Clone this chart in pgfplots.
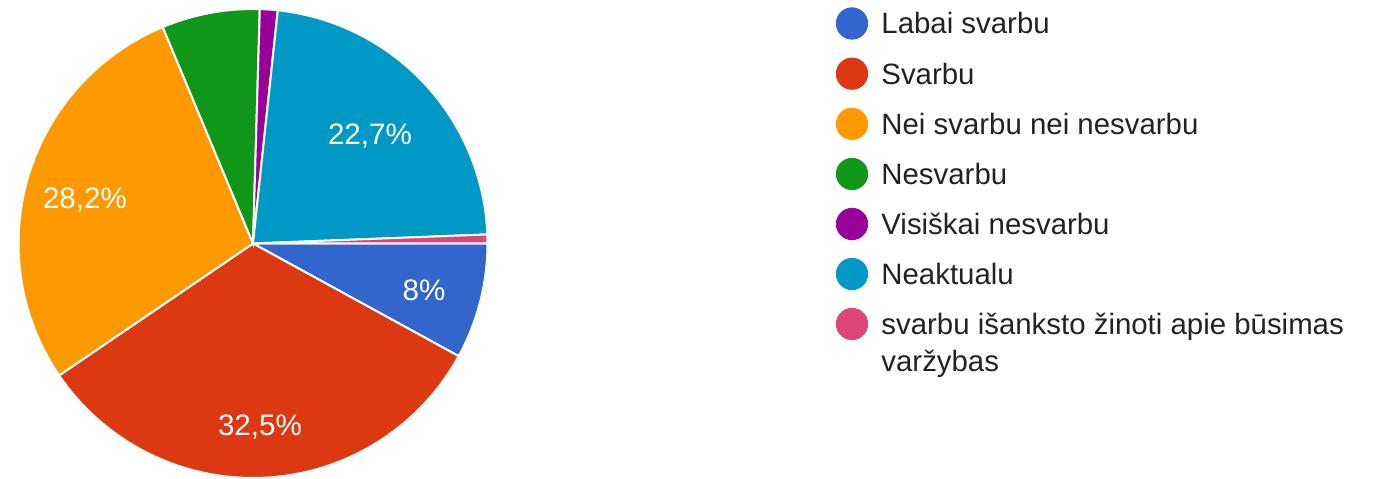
\documentclass[border=0pt]{standalone}
\usepackage{pgfplots}
\pgfplotsset{compat=1.18}
\usepackage{fontspec}
\setmainfont{Liberation Sans}
\definecolor{c1}{HTML}{3366CC}
\definecolor{c2}{HTML}{DC3912}
\definecolor{c3}{HTML}{FF9900}
\definecolor{c4}{HTML}{109618}
\definecolor{c5}{HTML}{990099}
\definecolor{c6}{HTML}{0099C6}
\definecolor{c7}{HTML}{DD4477}
\definecolor{legtext}{HTML}{222222}
\begin{document}
\begin{tikzpicture}
\begin{axis}[width=687pt,height=239pt,scale only axis,
  xmin=0,xmax=1374,ymin=0,ymax=478,hide axis,clip=false]
\path (rel axis cs:0,0) rectangle (rel axis cs:1,1);
% slices: counts 13,53,46,11,2,37,1 of 163, clockwise from 3 o'clock
\addplot[fill=c1,draw=white,line width=1pt,domain=-28.71:0,samples=40,variable=\t]
  ({253+234.5*cos(\t)},{234.5+234.5*sin(\t)}) -- (253,234.5) -- cycle;
\addplot[fill=c2,draw=white,line width=1pt,domain=-145.77:-28.71,samples=100,variable=\t]
  ({253+234.5*cos(\t)},{234.5+234.5*sin(\t)}) -- (253,234.5) -- cycle;
\addplot[fill=c3,draw=white,line width=1pt,domain=-247.36:-145.77,samples=100,variable=\t]
  ({253+234.5*cos(\t)},{234.5+234.5*sin(\t)}) -- (253,234.5) -- cycle;
\addplot[fill=c4,draw=white,line width=1pt,domain=-271.66:-247.36,samples=30,variable=\t]
  ({253+234.5*cos(\t)},{234.5+234.5*sin(\t)}) -- (253,234.5) -- cycle;
\addplot[fill=c5,draw=white,line width=1pt,domain=-276.07:-271.66,samples=8,variable=\t]
  ({253+234.5*cos(\t)},{234.5+234.5*sin(\t)}) -- (253,234.5) -- cycle;
\addplot[fill=c6,draw=white,line width=1pt,domain=-357.79:-276.07,samples=90,variable=\t]
  ({253+234.5*cos(\t)},{234.5+234.5*sin(\t)}) -- (253,234.5) -- cycle;
\addplot[fill=c7,draw=white,line width=1pt,domain=-360:-357.79,samples=5,variable=\t]
  ({253+234.5*cos(\t)},{234.5+234.5*sin(\t)}) -- (253,234.5) -- cycle;
% slice labels
\node[text=white,font=\fontsize{14.8}{18}\selectfont] at (424,188) {8\%};
\node[text=white,font=\fontsize{14.8}{18}\selectfont] at (260,51) {32,5\%};
\node[text=white,font=\fontsize{14.8}{18}\selectfont] at (85,278) {28,2\%};
\node[text=white,font=\fontsize{14.8}{18}\selectfont] at (370,342) {22,7\%};
% legend markers
\addplot[only marks,mark=*,mark size=7.85pt,color=c1] coordinates {(852,454.5)};
\addplot[only marks,mark=*,mark size=7.85pt,color=c2] coordinates {(852,404.3)};
\addplot[only marks,mark=*,mark size=7.85pt,color=c3] coordinates {(852,354.1)};
\addplot[only marks,mark=*,mark size=7.85pt,color=c4] coordinates {(852,304)};
\addplot[only marks,mark=*,mark size=7.85pt,color=c5] coordinates {(852,254)};
\addplot[only marks,mark=*,mark size=7.85pt,color=c6] coordinates {(852,204)};
\addplot[only marks,mark=*,mark size=7.85pt,color=c7] coordinates {(852,154)};
% legend text
\begin{scope}[every node/.style={anchor=base west,inner sep=0pt,text=legtext,font=\fontsize{14.7}{18}\selectfont}]
\node at (881,444) {Labai svarbu};
\node at (881,393.8) {Svarbu};
\node at (881,343.6) {Nei svarbu nei nesvarbu};
\node at (881,293.5) {Nesvarbu};
\node at (881,243.5) {Visiškai nesvarbu};
\node at (881,193.5) {Neaktualu};
\node at (881,143.5) {svarbu išanksto žinoti apie būsimas};
\node at (881,106) {varžybas};
\end{scope}
\end{axis}
\end{tikzpicture}
\end{document}
